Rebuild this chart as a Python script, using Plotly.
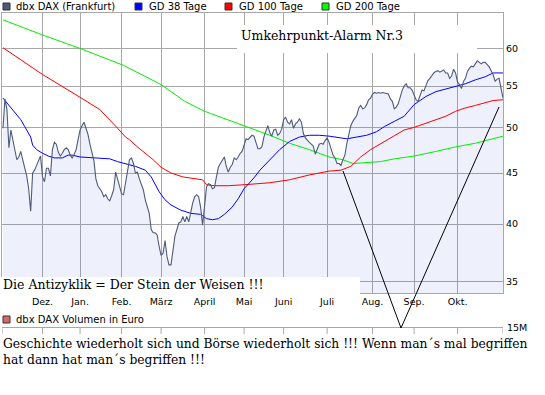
import pandas as pd
import plotly.graph_objects as go

# ---------------- data ----------------
holidays = ["2008-12-24", "2008-12-25", "2008-12-26", "2008-12-31",
            "2009-01-01", "2009-04-10", "2009-04-13", "2009-05-01"]
trading_days = [d for d in pd.bdate_range("2008-11-03", "2009-11-03")
                if d.strftime("%Y-%m-%d") not in holidays]

price = [
    49.9, 53.4, 52.1, 47.7, 49.7, 48.6, 47.5, 46.4, 46.7, 47.3,
    46.4, 45.6, 44.7, 43.4, 41.2, 45.0, 45.3, 45.8, 46.4, 46.8,
    44.6, 44.1, 45.5, 45.5, 44.7, 47.5, 48.3, 48.1, 47.2, 46.8,
    47.1, 47.5, 47.7, 47.5, 46.9, 46.6, 47.0, 47.5, 48.6, 49.7,
    50.2, 50.6, 49.9, 49.2, 48.1, 47.0, 46.3, 44.4, 43.7, 43.4,
    43.1, 42.6, 42.8, 42.4, 42.2, 42.7, 43.3, 45.1, 44.3, 43.5,
    42.9, 42.8, 43.9, 45.3, 46.4, 46.6, 46.0, 45.0, 45.1, 44.4,
    43.8, 43.3, 42.3, 41.7, 41.0, 39.5, 39.2, 39.2, 39.0, 38.0,
    37.2, 37.4, 38.5, 37.1, 36.4, 36.4, 37.7, 38.9, 39.5, 40.1,
    40.2, 40.7, 40.2, 40.7, 40.2, 41.3, 42.0, 42.6, 42.8, 42.6,
    41.6, 39.9, 41.8, 43.6, 43.9, 43.8, 43.4, 43.5, 44.6, 45.6,
    46.0, 46.4, 46.7, 45.7, 45.1, 45.6, 45.9, 46.6, 46.4, 46.7,
    47.1, 47.3, 48.0, 48.7, 48.6, 48.8, 49.1, 49.0, 48.3, 47.6,
    47.6, 47.8, 48.9, 49.7, 50.2, 49.4, 49.0, 49.7, 49.8, 49.1,
    49.3, 49.8, 50.9, 51.2, 50.6, 50.4, 50.9, 49.9, 50.4, 50.6,
    51.0, 50.6, 49.3, 48.8, 48.5, 48.3, 48.1, 47.9, 47.0, 47.6,
    48.1, 48.2, 48.1, 48.5, 48.8, 48.3, 47.5, 46.9, 46.6, 46.0,
    46.0, 45.8, 46.4, 46.9, 48.2, 49.3, 50.2, 50.7, 51.0, 51.4,
    52.3, 52.6, 52.2, 52.3, 52.7, 53.3, 53.5, 54.0, 54.2, 54.1,
    54.2, 54.1, 54.2, 54.1, 54.0, 54.0, 53.4, 53.1, 52.2, 52.4,
    52.8, 53.8, 54.5, 55.0, 55.3, 54.8, 54.8, 54.5, 53.9, 53.3,
    53.1, 53.8, 54.5, 54.4, 55.0, 55.7, 56.0, 56.4, 56.7, 56.9,
    57.0, 56.8, 56.9, 57.1, 56.7, 56.7, 56.0, 56.3, 57.2, 56.7,
    55.5, 55.2, 54.7, 55.6, 56.0, 56.9, 57.3, 57.6, 57.5, 57.9,
    58.3, 58.1, 57.9, 58.1, 58.1, 57.8, 57.5, 57.0, 56.5, 55.6,
    55.9, 56.0, 54.6, 53.5,
]

gd38_day = [0, 5, 9, 11, 14, 15, 17, 20, 23, 26, 30, 33, 35, 39, 46, 49, 54, 58, 62,
            67, 72, 75, 79, 82, 85, 90, 95, 100, 103, 106, 109, 112, 116, 119, 122,
            127, 130, 135, 140, 145, 150, 155, 160, 165, 170, 174, 179, 184, 189, 193,
            198, 203, 208, 214, 219, 224, 229, 234, 239, 244, 248, 253]
gd38_val = [53.5, 52.1, 50.9, 50.1, 48.9, 48.0, 47.5, 47.1, 46.8, 46.6, 46.6, 46.9,
            46.9, 46.7, 46.6, 46.5, 46.5, 46.2, 46.0, 45.7, 45.3, 44.6, 43.1, 42.3,
            41.8, 41.3, 41.0, 40.9, 40.5, 40.4, 40.5, 40.9, 41.6, 42.4, 43.4, 44.5,
            45.3, 46.4, 47.5, 48.4, 48.9, 49.1, 49.1, 49.0, 48.8, 48.7, 48.9, 49.1,
            49.5, 50.1, 50.7, 51.3, 52.7, 53.7, 54.3, 54.6, 54.9, 55.3, 55.8, 56.2,
            56.7, 56.7]

gd100_day = [0, 9, 20, 39, 49, 58, 62, 64, 68, 76, 80, 85, 91, 101, 103, 107, 114,
             122, 128, 135, 145, 155, 165, 171, 176, 181, 186, 193, 198, 203, 208,
             214, 219, 224, 229, 234, 239, 244, 248, 253]
gd100_val = [60.1, 58.4, 56.5, 53.6, 52.1, 49.9, 48.9, 48.6, 47.8, 46.4, 45.6, 45.0,
             44.6, 44.3, 43.8, 43.7, 43.7, 43.8, 43.9, 44.0, 44.3, 44.8, 45.2, 45.3,
             45.7, 46.7, 47.5, 48.4, 49.1, 49.7, 50.0, 50.5, 50.9, 51.3, 51.9, 52.3,
             52.6, 52.9, 53.2, 53.3]

gd200_day = [0, 20, 39, 61, 80, 92, 102, 123, 128, 135, 145, 155, 165, 172, 177,
             184, 191, 198, 208, 219, 229, 239, 247, 253]
gd200_val = [64.1, 61.9, 60.0, 57.7, 55.2, 53.1, 51.9, 50.1, 49.7, 49.1, 48.2, 47.5,
             46.7, 46.4, 46.0, 46.1, 46.2, 46.5, 46.8, 47.3, 47.8, 48.2, 48.7, 49.0]

month_ticks = ["2008-12-01", "2009-01-02", "2009-02-02", "2009-03-02", "2009-04-01",
               "2009-05-04", "2009-06-01", "2009-07-01", "2009-08-03", "2009-09-01",
               "2009-10-01"]
month_labels = ["Dez.", "Jan.", "Feb.", "März", "April", "Mai", "Juni", "Juli",
                "Aug.", "Sep.", "Okt."]
price_ticks = [35, 40, 45, 50, 55, 60]

# ---------------- figure ----------------
W, H = 545, 395
ML, MR, MT, MB = 2, 42, 13, 102
PW, PH = W - ML - MR, H - MT - MB


def px(x):
    return (x - ML) / PW


def py(y):
    return (H - MB - y) / PH


C_PRICE = "#4f5a77"
C_FILL = "rgba(70,105,215,0.09)"
C_GRID = "#a8a8a8"
SANS = "DejaVu Sans"
SERIF = "DejaVu Serif"

dates = trading_days
fig = go.Figure()
fig.add_trace(go.Scatter(x=dates, y=price, mode="lines", line=dict(width=0, color=C_FILL),
                         fill="tozeroy", fillcolor=C_FILL, hoverinfo="skip", showlegend=False))
fig.add_trace(go.Scatter(x=[dates[i] for i in gd200_day], y=gd200_val, mode="lines",
                         line=dict(color="#00ee00", width=1), showlegend=False))
fig.add_trace(go.Scatter(x=[dates[i] for i in gd100_day], y=gd100_val, mode="lines",
                         line=dict(color="#ff0000", width=1), showlegend=False))
fig.add_trace(go.Scatter(x=[dates[i] for i in gd38_day], y=gd38_val, mode="lines",
                         line=dict(color="#0000ff", width=1), showlegend=False))
fig.add_trace(go.Scatter(x=dates, y=price, mode="lines",
                         line=dict(color=C_PRICE, width=1.1), showlegend=False))

rb = [dict(bounds=["sat", "mon"]), dict(values=holidays)]
xrange = ["2008-10-31 12:00", "2009-11-03"]

fig.update_layout(
    width=W, height=H, margin=dict(l=ML, r=MR, t=MT, b=MB),
    paper_bgcolor="white", plot_bgcolor="white",
    font=dict(family=SANS, size=10, color="black"),
    xaxis=dict(type="date", range=xrange, rangebreaks=rb,
               tickvals=month_ticks, ticktext=month_labels,
               showgrid=True, gridcolor=C_GRID, gridwidth=1,
               showline=True, linecolor=C_GRID, mirror=True, zeroline=False,
               tickfont=dict(family=SANS, size=9.5, color="black")),
    yaxis=dict(type="log", range=[1.5329, 1.8137], side="right",
               tickvals=price_ticks, ticktext=[str(v) for v in price_ticks],
               showgrid=True, gridcolor=C_GRID, gridwidth=1, showline=True,
               linecolor=C_GRID, mirror=True, zeroline=False,
               tickfont=dict(family=SANS, size=9.5, color="black")),
)

shapes = []
annotations = []

# legend (top)
legend_items = [(3, 14, "dbx DAX (Frankfurt)", C_PRICE), (135, 147, "GD 38 Tage", "#0000ff"),
                (225, 237, "GD 100 Tage", "#ff0000"), (322, 334, "GD 200 Tage", "#00ff00")]
for sx, tx, label, col in legend_items:
    shapes.append(dict(type="rect", xref="paper", yref="paper", x0=px(sx), x1=px(sx + 7),
                       y0=py(10), y1=py(3), fillcolor=col, line=dict(color="#333333", width=1)))
    annotations.append(dict(xref="paper", yref="paper", x=px(tx), y=py(6.5), text=label,
                            showarrow=False, xanchor="left", yanchor="middle",
                            font=dict(family=SANS, size=10, color="black")))

# volume panel: legend, top line with month ticks, 15M label
shapes.append(dict(type="rect", xref="paper", yref="paper", x0=px(3), x1=px(10),
                   y0=py(323), y1=py(316), fillcolor="#d46a6a",
                   line=dict(color="#333333", width=1)))
annotations.append(dict(xref="paper", yref="paper", x=px(14), y=py(319.5),
                        text="dbx DAX Volumen in Euro", showarrow=False, xanchor="left",
                        yanchor="middle", font=dict(family=SANS, size=10, color="black")))
shapes.append(dict(type="line", xref="paper", yref="paper", x0=0, x1=1,
                   y0=py(327.5), y1=py(327.5), line=dict(color=C_GRID, width=1)))
for xv in [xrange[0]] + month_ticks + [xrange[1]]:
    shapes.append(dict(type="line", xref="x", yref="paper", x0=xv, x1=xv,
                       y0=py(334), y1=py(327.5), line=dict(color=C_GRID, width=1)))
annotations.append(dict(xref="paper", yref="paper", x=px(505), y=py(327), text="15M",
                        showarrow=False, xanchor="left", yanchor="middle",
                        font=dict(family=SANS, size=9.5, color="black")))

# white text boxes
shapes.append(dict(type="rect", xref="paper", yref="paper", x0=px(237), x1=px(477),
                   y0=py(53), y1=py(25), fillcolor="white", line=dict(width=0), layer="above"))
shapes.append(dict(type="rect", xref="paper", yref="paper", x0=px(-2), x1=px(360),
                   y0=py(296), y1=py(277), fillcolor="white", line=dict(width=0), layer="above"))

# V drawing
shapes.append(dict(type="line", xref="paper", yref="paper", x0=px(343), y0=py(171),
                   x1=px(401), y1=py(328), line=dict(color="black", width=1), layer="above"))
shapes.append(dict(type="line", xref="paper", yref="paper", x0=px(401), y0=py(328),
                   x1=px(499), y1=py(107), line=dict(color="black", width=1), layer="above"))

annotations.append(dict(xref="paper", yref="paper", x=px(239), y=py(35),
                        text="Umkehrpunkt-Alarm Nr.3", showarrow=False, xanchor="left",
                        yanchor="middle", font=dict(family=SERIF, size=12.5, color="black")))
annotations.append(dict(xref="paper", yref="paper", x=px(1), y=py(284.5),
                        text="Die Antizyklik = Der Stein der Weisen !!!", showarrow=False,
                        xanchor="left", yanchor="middle",
                        font=dict(family=SERIF, size=12.5, color="black")))
annotations.append(dict(xref="paper", yref="paper", x=px(1), y=py(335),
                        text="Geschichte wiederholt sich und Börse wiederholt sich !!! Wenn man´s mal begriffen<br>hat dann hat man´s begriffen !!!",
                        showarrow=False, xanchor="left", yanchor="top", align="left",
                        font=dict(family=SERIF, size=12.3, color="black")))

fig.update_layout(shapes=shapes, annotations=annotations)
fig.write_html("out.html")
